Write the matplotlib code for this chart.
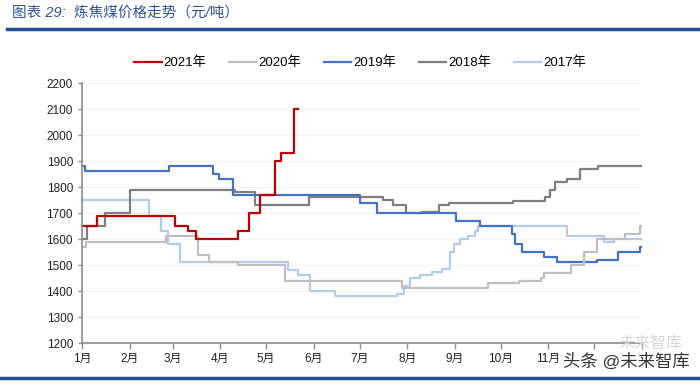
import matplotlib
matplotlib.use("Agg")
import matplotlib.pyplot as plt
from matplotlib.lines import Line2D

plt.rcParams['font.family'] = ['Liberation Sans', 'Noto Sans CJK SC', 'DejaVu Sans']

# day-of-year where the price changes, and the price from that day on
days_2021 = [0, 10, 60.5, 69, 74, 101.5, 109, 116, 126, 130, 138, 140.5]
vals_2021 = [1650, 1690, 1650, 1630, 1600, 1630, 1700, 1770, 1900, 1930, 2100, 2100]

days_2020 = [0, 2.5, 55, 75.5, 82.5, 102, 132, 208.5, 264.5, 285, 299, 301, 318.5, 327.5, 335.5, 354, 363.5, 364.5]
vals_2020 = [1570, 1590, 1610, 1540, 1510, 1500, 1440, 1410, 1430, 1440, 1450, 1470, 1500, 1550, 1600, 1620, 1650, 1650]

days_2019 = [0, 2, 56.5, 85.5, 89.5, 98.5, 181, 192, 243.5, 259.5, 280.5, 282, 287, 301, 309.5, 335.5, 349.5, 363.5, 364.5]
vals_2019 = [1880, 1860, 1880, 1850, 1830, 1770, 1740, 1700, 1670, 1650, 1620, 1580, 1550, 1530, 1510, 1520, 1550, 1570, 1570]

days_2018 = [0, 3.5, 15, 31, 100, 113, 148, 196.5, 203, 211, 221.5, 233, 239, 281, 302, 305, 308, 316, 324.5, 336.5, 364.5]
vals_2018 = [1600, 1650, 1700, 1790, 1780, 1730, 1760, 1750, 1730, 1700, 1705, 1730, 1740, 1745, 1760, 1790, 1820, 1830, 1870, 1880, 1880]

days_2017 = [0, 43.7, 51.5, 56, 64, 134.5, 141, 148.5, 165, 205, 210, 214, 220, 228, 234.5, 240, 242.7, 246.4, 251.8, 256.2, 258.3, 316, 340, 346.5, 364.5]
vals_2017 = [1750, 1690, 1630, 1580, 1510, 1480, 1460, 1400, 1380, 1390, 1420, 1450, 1460, 1475, 1485, 1550, 1580, 1600, 1610, 1630, 1650, 1610, 1590, 1600, 1600]

month_starts = [0, 31, 59, 90, 120, 151, 181, 212, 243, 273, 304, 334, 365]
month_labels = ['1月', '2月', '3月', '4月', '5月', '6月', '7月', '8月', '9月', '10月', '11月', '', '']

series = [
    ('2021年', days_2021, vals_2021, '#c00000'),
    ('2020年', days_2020, vals_2020, '#bfbfbf'),
    ('2019年', days_2019, vals_2019, '#4472c4'),
    ('2018年', days_2018, vals_2018, '#7f7f7f'),
    ('2017年', days_2017, vals_2017, '#b4cbec'),
]

fig = plt.figure(figsize=(7, 3.83), dpi=100)
ax = fig.add_axes([82 / 700, 40 / 383, 560 / 700, 260 / 383])

# draw older years first so 2021 sits on top
for name, d, v, c in reversed(series):
    ax.plot(d, v, drawstyle='steps-post', color=c, lw=1.6, label=name)

ax.set_xlim(0, 365)
ax.set_ylim(1200, 2200)
ax.set_yticks(range(1200, 2201, 100))
ax.set_xticks(month_starts)
ax.set_xticklabels(month_labels)
ax.grid(axis='y', color='#f2f2f2', lw=0.6)
ax.set_axisbelow(True)

for side in ['top', 'right']:
    ax.spines[side].set_visible(False)
for side in ['left', 'bottom']:
    ax.spines[side].set_color('#8c8c8c')
    ax.spines[side].set_linewidth(1.2)
ax.tick_params(axis='both', colors='#8c8c8c', length=3, width=1, labelsize=8.5,
               labelcolor='#222222')
ax.tick_params(axis='x', length=4)

handles = [Line2D([], [], color=c, lw=1.6) for _, _, _, c in series]
fig.legend(handles, [s[0] for s in series], loc='center', ncol=5,
           bbox_to_anchor=(360 / 700, 1 - 63 / 383), frameon=False,
           fontsize=9.5, handlelength=2.1, columnspacing=1.7, handletextpad=0.15)

# title and frame lines
fig.text(12 / 700, 1 - 13 / 383, '图表 29:  炼焦煤价格走势（元/吨）', color='#2f5597',
         fontsize=10.5, style='italic', va='center', ha='left')
fig.add_artist(Line2D([7 / 700, 1], [1 - 29 / 383] * 2, color='#1f4e99', lw=2.5))
fig.add_artist(Line2D([0, 1], [1 - 378 / 383] * 2, color='#1f4e99', lw=2.5))

# watermark
fig.text(682 / 700, 1 - 343 / 383, '未来智库', color='#d6d6d6', fontsize=11.5,
         ha='right', va='center')
fig.text(690 / 700, 1 - 361 / 383, '头条 @未来智库', color='#333333', fontsize=12.5,
         ha='right', va='center')

fig.savefig('out.png', dpi=100)
